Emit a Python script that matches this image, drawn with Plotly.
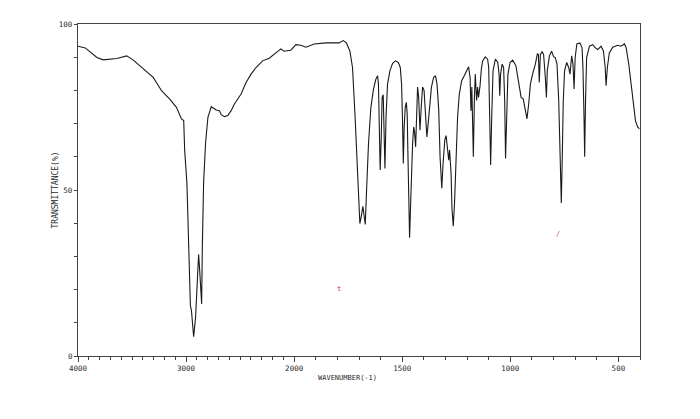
import plotly.graph_objects as go

# IR spectrum: wavenumber (cm-1) and transmittance (%)
wavenumber = [
    4000, 3933, 3825, 3767, 3641, 3549, 3491, 3396, 3304, 3227, 3151, 3089, 3043, 3022,
    3013, 2992, 2976, 2960, 2950, 2930, 2912, 2900, 2884, 2875, 2856, 2850, 2838, 2820,
    2798, 2767, 2721, 2691, 2675, 2645, 2614, 2583, 2553, 2522, 2491, 2445, 2399, 2353,
    2292, 2231, 2169, 2123, 2093, 2031,
    1992, 1969, 1946, 1907, 1853, 1792, 1773, 1758, 1742, 1730, 1718, 1707, 1699, 1696,
    1688, 1682, 1676, 1671, 1665, 1656, 1645, 1633, 1622, 1614, 1610, 1606, 1602, 1597,
    1593, 1588, 1585, 1580, 1575, 1568, 1557, 1545, 1532, 1518, 1509, 1503, 1499, 1495,
    1491, 1486, 1481, 1477, 1474, 1471, 1466, 1461, 1457, 1452, 1447, 1443, 1438, 1433,
    1429, 1424, 1418, 1412, 1406, 1399, 1393, 1386, 1380, 1373, 1365, 1355, 1346, 1339,
    1331, 1325, 1317, 1311, 1303, 1297, 1290, 1285, 1281, 1274, 1270, 1267, 1264, 1258,
    1251, 1244, 1236, 1225, 1213, 1200, 1193, 1186, 1182, 1178, 1171, 1166, 1162, 1156,
    1151, 1147, 1140, 1134, 1128, 1116, 1105, 1100, 1096, 1091, 1086, 1080, 1069, 1058,
    1052, 1049, 1045, 1038, 1031, 1026, 1022, 1017, 1011, 1001, 989, 974, 962, 950,
    940, 930, 923, 915, 907, 897, 884, 875, 870, 866, 861, 853, 846, 838,
    833, 829, 819, 809, 799, 792, 784, 776, 772, 767, 764, 759, 755, 749,
    739, 730, 724, 716, 710, 705, 700, 692, 678, 668, 664, 659, 656, 652,
    647, 634, 619, 606, 596, 580, 569, 561, 557, 551, 542, 526, 503, 488,
    472, 464, 452, 441, 431, 421, 411, 403,
]
transmittance = [
    93.3, 92.8, 89.9, 89.2, 89.6, 90.4, 89.2, 86.4, 83.9, 79.9, 77.4, 74.9, 71.4, 70.9,
    62.0, 52.0, 32.1, 15.2, 13.6, 5.8, 11.7, 22.2, 30.6, 26.3, 15.7, 32.1, 52.0, 64.0,
    71.9, 75.1, 74.1, 73.9, 72.7, 72.1, 72.4, 73.9, 75.9, 77.4, 78.9, 82.4, 84.9, 86.9,
    88.9, 89.7, 91.3, 92.5, 91.8, 92.1,
    93.8, 93.6, 93.0, 94.0, 94.3, 94.3, 95.0, 94.3, 91.8, 86.9, 71.9, 54.0, 42.1, 39.9,
    42.6, 45.1, 42.1, 39.6, 50.0, 64.0, 74.9, 80.4, 83.4, 84.4, 81.9, 71.9, 56.0, 65.9,
    77.9, 78.7, 71.9, 56.5, 71.9, 81.9, 85.9, 88.1, 88.9, 88.4, 86.9, 81.9, 71.9, 58.0,
    69.0, 74.9, 76.4, 72.9, 62.0, 46.1, 35.6, 46.1, 58.0, 64.0, 69.0, 67.5, 63.0, 72.0,
    81.0, 78.0, 68.0, 75.0, 81.0, 80.0, 72.0, 66.0, 70.0, 75.9, 80.9, 83.9, 84.4, 81.9,
    73.9, 60.0, 50.5, 58.0, 65.0, 66.4, 63.0, 59.0, 62.0, 55.0, 44.6, 42.1, 39.1, 46.1,
    59.0, 71.9, 78.9, 82.9, 84.4, 85.9, 87.1, 83.9, 73.9, 81.0, 60.0, 78.0, 84.9, 77.0,
    81.0, 77.9, 81.4, 86.4, 88.9, 90.1, 89.4, 86.9, 71.9, 57.5, 71.9, 85.9, 89.4, 88.4,
    84.9, 78.4, 84.9, 87.9, 86.9, 76.9, 59.5, 71.9, 84.9, 88.4, 89.1, 87.4, 82.9, 77.9,
    77.4, 73.9, 71.4, 75.9, 81.9, 84.9, 87.9, 91.0, 90.8, 82.4, 90.8, 91.6, 90.8, 83.9,
    77.9, 85.9, 90.4, 91.8, 90.1, 89.9, 87.9, 76.9, 64.0, 50.0, 46.1, 62.0, 76.9, 85.9,
    88.4, 86.9, 84.9, 90.4, 87.9, 80.4, 89.9, 94.0, 94.3, 92.8, 86.9, 71.9, 60.0, 76.9,
    89.9, 93.3, 93.8, 92.8, 92.3, 93.3, 91.8, 86.9, 81.4, 86.9, 91.3, 93.0, 93.6, 93.3,
    94.0, 92.8, 87.9, 81.9, 75.9, 70.9, 69.0, 68.4,
]

major_wn = [4000, 3500, 3000, 2500, 2000, 1500, 1000, 500]
major_labels = ["4000", "", "3000", "", "2000", "1500", "1000", "500"]
y_ticks = [0, 50, 100]
y_labels = ["0", "50", "100"]


def to_u(w):
    # split wavenumber scale: 4000-2000 compressed, 2000-400 expanded x2
    return 4000 - w if w >= 2000 else 2000 + 2 * (2000 - w)


x = [to_u(w) for w in wavenumber]
minor_wn = list(range(4000, 2000, -100)) + list(range(2000, 399, -100))

axis_color = "#444"
text_color = "#2a2a2a"
font_family = "DejaVu Sans Mono"

fig = go.Figure()
fig.add_trace(go.Scatter(
    x=x, y=transmittance, mode="lines",
    line=dict(color="#1a1a1a", width=1.1),
    hoverinfo="skip", showlegend=False,
))

fig.update_layout(
    width=700, height=419,
    margin=dict(l=70, r=68, t=13, b=71),
    paper_bgcolor="white", plot_bgcolor="white",
    font=dict(family=font_family, size=7.5, color=text_color),
    xaxis=dict(
        range=[to_u(4000), to_u(400)],
        tickmode="array",
        tickvals=[to_u(w) for w in major_wn],
        ticktext=major_labels,
        ticks="outside", ticklen=5, tickwidth=1, tickcolor=axis_color,
        minor=dict(tickmode="array", tickvals=[to_u(w) for w in minor_wn],
                   ticks="outside", ticklen=2.5, tickcolor=axis_color, showgrid=False),
        showline=True, linecolor=axis_color, linewidth=1.2, mirror=True,
        showgrid=False, zeroline=False,
        tickfont=dict(family=font_family, size=7.5, color=text_color),
    ),
    yaxis=dict(
        range=[0, 100],
        tickmode="array", tickvals=y_ticks, ticktext=y_labels,
        ticks="outside", ticklen=3, tickwidth=1, tickcolor=axis_color,
        minor=dict(tickmode="array", tickvals=list(range(10, 100, 10)),
                   ticks="outside", ticklen=2.5, tickcolor=axis_color, showgrid=False),
        showline=True, linecolor=axis_color, linewidth=1.2, mirror=True,
        showgrid=False, zeroline=False,
        tickfont=dict(family=font_family, size=7.5, color=text_color),
    ),
    annotations=[
        dict(text="TRANSMITTANCE(%)", xref="paper", yref="paper",
             x=(55 - 78) / 562, y=(356 - 189) / 335, textangle=-90,
             showarrow=False, xanchor="center", yanchor="middle",
             font=dict(family=font_family, size=8, color=text_color)),
        dict(text="WAVENUMBER(-1)", xref="paper", yref="paper", x=0.479, y=0,
             yshift=-22, showarrow=False, xanchor="center", yanchor="middle",
             font=dict(family=font_family, size=7, color=text_color)),
        dict(text="t", xref="paper", yref="paper", x=(339 - 78) / 562, y=(356 - 294) / 335,
             showarrow=False, font=dict(family=font_family, size=7, color="#c04040")),
        dict(text="/", xref="paper", yref="paper", x=(562 - 78) / 562, y=(356 - 233) / 335,
             showarrow=False, font=dict(family=font_family, size=7, color="#c06060")),
    ],
)

fig.write_html("out.html")
